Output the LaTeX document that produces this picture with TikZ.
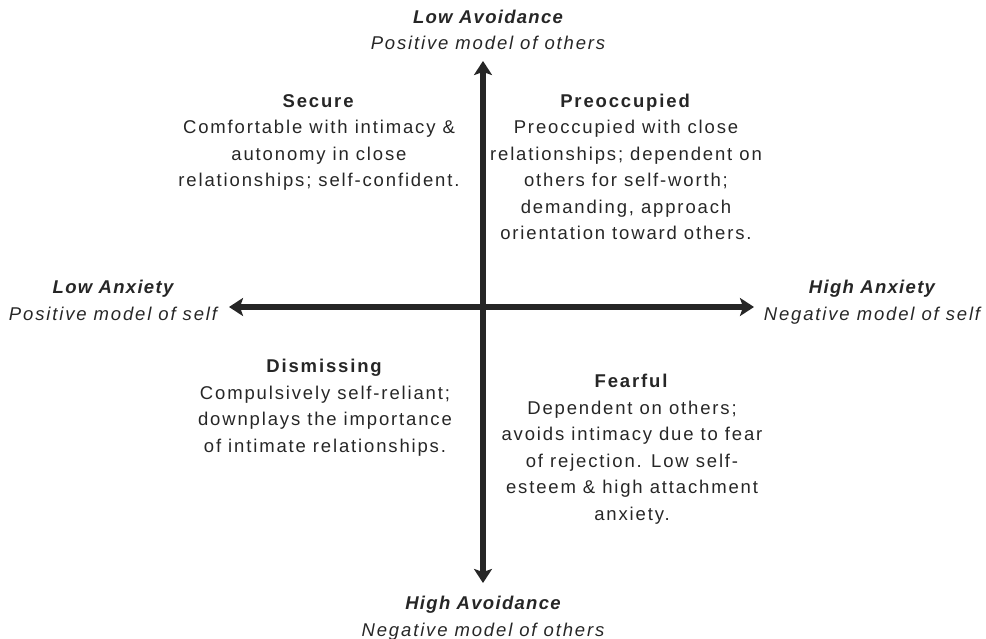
\documentclass[tikz,border=0pt]{standalone}
\usepackage{fontspec}
\setmainfont{Liberation Sans}[LetterSpace=10,BoldItalicFeatures={LetterSpace=7}]
\usetikzlibrary{arrows.meta}
\tikzset{
  axislabel/.style={align=center,font=\fontsize{18.5}{26.5}\selectfont\itshape,text=black!85},
  quadtext/.style={align=center,font=\fontsize{18.5}{26.5}\selectfont,text=black!85},
  axisarrow/.style={{Stealth[length=14pt,width=18pt,inset=3pt]}-{Stealth[length=14pt,width=18pt,inset=3pt]},line width=6pt,black!85}
}
\begin{document}
\begin{tikzpicture}[x=1pt,y=-1pt]
    \useasboundingbox (0,0) rectangle (986,639);
    \coordinate (top) at (483,61);
    \coordinate (bottom) at (483,583);
    \coordinate (left) at (229,307);
    \coordinate (right) at (754,307);
    \draw[axisarrow] (top) -- (bottom);
    \draw[axisarrow] (left) -- (right);
    % axis ends (placed at the base of the last line)
    \node[axislabel,anchor=base] (lowavoid) at (488,50) {\textbf{Low Avoidance}\\Positive model of others};
    \node[axislabel,anchor=base] (highavoid) at (483,636) {\textbf{High Avoidance}\\Negative model of others};
    \node[axislabel,anchor=base] (lowanx) at (113,320) {\textbf{Low Anxiety}\\Positive model of self};
    \node[axislabel,anchor=base] (highanx) at (872,320) {\textbf{High Anxiety}\\Negative model of self};
    % quadrants
    \node[quadtext,anchor=base] (secure) at (319,187) {\textbf{Secure}\\Comfortable with intimacy \&\\autonomy in close\\relationships; self-confident.};
    \node[quadtext,anchor=base] (preocc) at (626,240) {\textbf{Preoccupied}\\Preoccupied with close\\relationships; dependent on\\others for self-worth;\\demanding, approach\\orientation toward others.};
    \node[quadtext,anchor=base] (dismiss) at (325,452) {\textbf{Dismissing}\\Compulsively self-reliant;\\downplays the importance\\of intimate relationships.};
    \node[quadtext,anchor=base] (fearful) at (632,520) {\textbf{Fearful}\\Dependent on others;\\avoids intimacy due to fear\\of rejection. Low self-\\esteem \& high attachment\\anxiety.};
\end{tikzpicture}
\end{document}
